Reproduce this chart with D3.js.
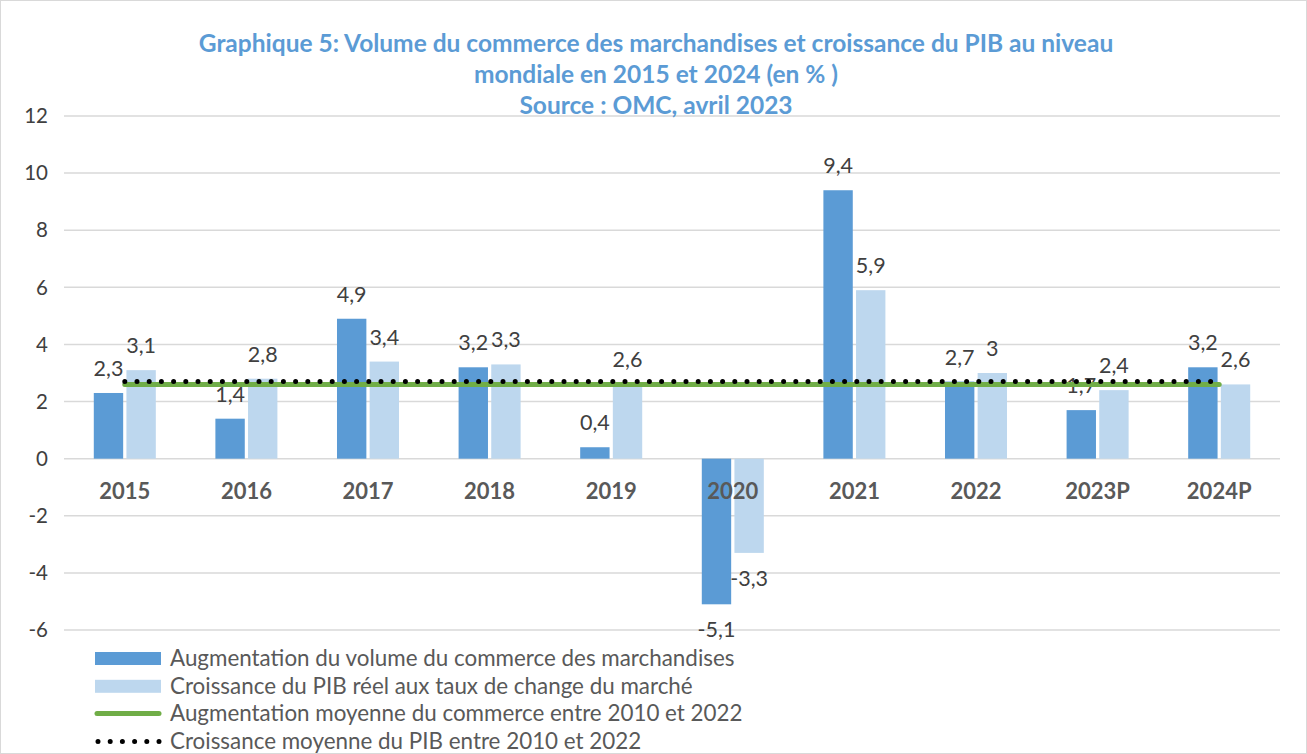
<!DOCTYPE html>
<html>
<head>
<meta charset="utf-8">
<script src="https://cdn.jsdelivr.net/npm/d3@7"></script>
<style>
  body { margin: 0; background: #fff; }
  svg { display: block; font-family: Lato, "Open Sans", sans-serif; }
</style>
</head>
<body>
<svg width="1307" height="754"></svg>
<script>
// data
var years = ["2015", "2016", "2017", "2018", "2019", "2020", "2021", "2022", "2023P", "2024P"];
var commerce = [2.3, 1.4, 4.9, 3.2, 0.4, -5.1, 9.4, 2.7, 1.7, 3.2];
var pib = [3.1, 2.8, 3.4, 3.3, 2.6, -3.3, 5.9, 3, 2.4, 2.6];
var moyCommerce = 2.6;
var moyPib = 2.7;
var yTicks = [-6, -4, -2, 0, 2, 4, 6, 8, 10, 12];
var titleLines = [
  "Graphique 5: Volume du commerce des marchandises et croissance du PIB au niveau",
  "mondiale en 2015 et 2024 (en % )",
  "Source : OMC, avril 2023"
];
var legendLabels = [
  "Augmentation du volume du commerce des marchandises",
  "Croissance du PIB réel aux taux de change du marché",
  "Augmentation moyenne du commerce entre 2010 et 2022",
  "Croissance moyenne du PIB entre 2010 et 2022"
];

const svg = d3.select('svg');
const W = 1307, H = 754;

svg.append('rect')
  .attr('x', 0.5).attr('y', 0.5)
  .attr('width', W - 1).attr('height', H - 1)
  .attr('fill', '#fff').attr('stroke', '#d9d9d9');

const left = 64, right = 1280;

const x0 = d3.scaleBand()
  .domain(years)
  .range([left, right])
  .paddingInner(0.49)
  .paddingOuter(0.245);

const x1 = d3.scaleBand()
  .domain(['c', 'p'])
  .range([0, x0.bandwidth()])
  .paddingInner(0.1);

const y = d3.scaleLinear()
  .domain([-6, 12])
  .range([630, 116]);

// grid lines
svg.append('g')
  .selectAll('line')
  .data(yTicks)
  .enter()
  .append('line')
  .attr('x1', left).attr('x2', right)
  .attr('y1', d => y(d)).attr('y2', d => y(d))
  .attr('stroke', '#d9d9d9')
  .attr('stroke-width', 1.5);

// y tick labels
svg.append('g')
  .selectAll('text')
  .data(yTicks)
  .enter()
  .append('text')
  .attr('x', 48)
  .attr('y', d => y(d))
  .attr('dy', '0.35em')
  .attr('text-anchor', 'end')
  .attr('fill', '#404040')
  .style('font-size', '20.5px')
  .text(d => d);

const rows = years.map((yr, i) => ({ year: yr, c: commerce[i], p: pib[i] }));

const groups = svg.append('g')
  .selectAll('g')
  .data(rows)
  .enter()
  .append('g')
  .attr('transform', d => `translate(${x0(d.year)},0)`);

const series = [
  { key: 'c', color: '#5b9bd5' },
  { key: 'p', color: '#bdd7ee' }
];

series.forEach(s => {
  groups.append('rect')
    .attr('x', x1(s.key))
    .attr('width', x1.bandwidth())
    .attr('y', d => y(Math.max(0, d[s.key])))
    .attr('height', d => Math.abs(y(d[s.key]) - y(0)))
    .attr('fill', s.color);
});

// category labels
svg.append('g')
  .selectAll('text')
  .data(years)
  .enter()
  .append('text')
  .attr('x', d => x0(d) + x0.bandwidth() / 2)
  .attr('y', y(0) + 40)
  .attr('text-anchor', 'middle')
  .attr('fill', '#595959')
  .style('font-size', '22px')
  .style('font-weight', 'bold')
  .text(d => d);

// average lines
const lineX1 = x0(years[0]) + x0.bandwidth() / 2;
const lineX2 = x0(years[years.length - 1]) + x0.bandwidth() / 2;

svg.append('line')
  .attr('x1', lineX1).attr('x2', lineX2)
  .attr('y1', y(moyCommerce)).attr('y2', y(moyCommerce))
  .attr('stroke', '#70ad47')
  .attr('stroke-width', 5)
  .attr('stroke-linecap', 'round');

svg.append('line')
  .attr('x1', lineX1).attr('x2', lineX2)
  .attr('y1', y(moyPib)).attr('y2', y(moyPib))
  .attr('stroke', '#000')
  .attr('stroke-width', 5)
  .attr('stroke-linecap', 'round')
  .attr('stroke-dasharray', '0 12.2');

// data labels
series.forEach(s => {
  groups.append('text')
    .attr('x', x1(s.key) + x1.bandwidth() / 2)
    .attr('y', d => d[s.key] >= 0 ? y(d[s.key]) - 17 : y(d[s.key]) + 33)
    .attr('text-anchor', 'middle')
    .attr('fill', '#404040')
    .style('font-size', '21.5px')
    .text(d => String(d[s.key]).replace('.', ','));
});

// title
svg.append('g')
  .selectAll('text')
  .data(titleLines)
  .enter()
  .append('text')
  .attr('x', 656)
  .attr('y', (d, i) => 52 + i * 31)
  .attr('text-anchor', 'middle')
  .attr('fill', '#5b9bd5')
  .style('font-size', '24.5px')
  .style('font-weight', 'bold')
  .text(d => d);

// legend
const legend = svg.append('g')
  .selectAll('g')
  .data(legendLabels)
  .enter()
  .append('g')
  .attr('transform', (d, i) => `translate(95,${658 + i * 27.8})`);

legend.each(function (d, i) {
  const g = d3.select(this);
  if (i < 2) {
    g.append('rect')
      .attr('x', 0).attr('y', -6)
      .attr('width', 66).attr('height', 13)
      .attr('fill', series[i].color);
  } else if (i === 2) {
    g.append('line')
      .attr('x1', 2).attr('x2', 64)
      .attr('stroke', '#70ad47')
      .attr('stroke-width', 5)
      .attr('stroke-linecap', 'round');
  } else {
    g.append('line')
      .attr('x1', 3).attr('x2', 64)
      .attr('stroke', '#000')
      .attr('stroke-width', 5)
      .attr('stroke-linecap', 'round')
      .attr('stroke-dasharray', '0 12.2');
  }
  g.append('text')
    .attr('x', 75)
    .attr('dy', '0.35em')
    .attr('fill', '#595959')
    .style('font-size', '22.4px')
    .text(d);
});
</script>
</body>
</html>
